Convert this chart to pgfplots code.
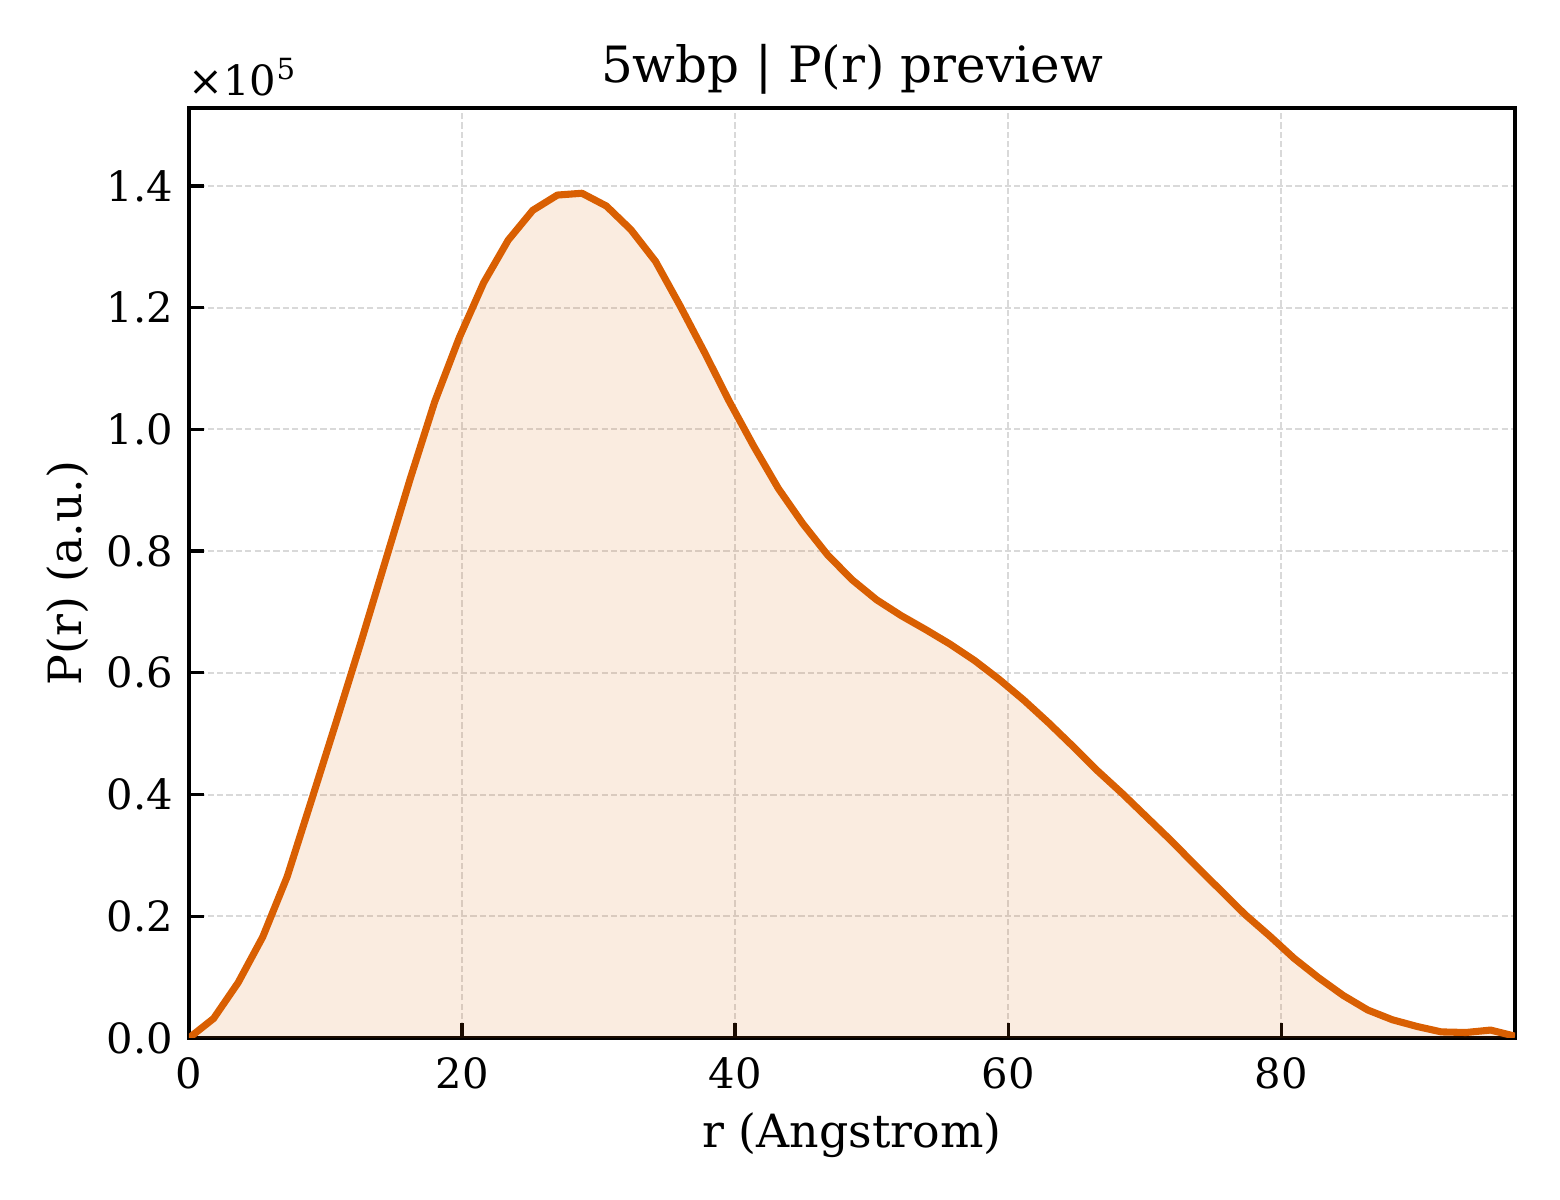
\documentclass[border=0pt]{standalone}
\usepackage{fontspec}
\setmainfont{DejaVu Serif}
\usepackage{pgfplots}
\usepackage{pgfplotstable}
\pgfplotsset{compat=1.18}
\definecolor{myorange}{RGB}{217,95,2}
\pgfplotstableread{
r P
0.00 0
1.80 3200
3.60 9100
5.40 16600
7.19 26500
8.99 39200
10.79 52000
12.59 65000
14.39 78400
16.19 91800
17.99 104500
19.78 115000
21.58 124100
23.38 131100
25.18 136000
26.98 138500
28.78 138800
30.57 136700
32.37 132800
34.17 127600
35.97 120300
37.77 112600
39.57 104600
41.37 97200
43.16 90300
44.96 84500
46.76 79400
48.56 75300
50.36 72000
52.16 69400
53.96 67100
55.75 64700
57.55 62000
59.35 58900
61.15 55500
62.95 51800
64.75 47900
66.54 43900
68.34 40200
70.14 36300
71.94 32400
73.74 28300
75.54 24300
77.34 20300
79.13 16800
80.93 13100
82.73 9900
84.53 7000
86.33 4600
88.13 3000
89.93 1900
91.72 1000
93.52 900
95.32 1300
97.12 300
}\prdata
\begin{document}
\begin{tikzpicture}
\useasboundingbox (-45.36pt,-38.88pt) rectangle (329.04pt,249.12pt);
\begin{axis}[
  at={(0,0)}, anchor=south west,
  scale only axis,
  width=318.24pt, height=223.2pt,
  xmin=0, xmax=97.12,
  ymin=0, ymax=152810,
  xtick={0,20,40,60,80},
  ytick={0,20000,40000,60000,80000,100000,120000,140000},
  scaled y ticks=base 10:-5,
  ytick scale label code/.code={×10\textsuperscript{#1}},
  every y tick scale label/.style={at={(axis description cs:0,1)}, anchor=base west, yshift=3.1pt, xshift=3.3pt, inner sep=0pt, font=\fontsize{10}{12}\selectfont},
  /pgf/number format/assume math mode=true,
  yticklabel style={/pgf/number format/fixed, /pgf/number format/fixed zerofill, /pgf/number format/precision=1},
  tick label style={font=\fontsize{10}{12}\selectfont},
  xticklabel style={anchor=north, inner sep=0pt, yshift=-4.6pt},
  yticklabel style={anchor=east, inner sep=0pt, xshift=-3.6pt},
  tick align=inside,
  xtick pos=bottom, ytick pos=left,
  major tick length=3.5pt,
  tick style={black, line width=0.8pt},
  axis line style={black, line width=1pt},
  grid=major,
  major grid style={gray!30, line width=0.5pt, dash pattern=on 1.5pt off 0.75pt},
  title={5wbp | P(r) preview},
  every axis title/.style={at={(axis description cs:0.5,1)}, anchor=base, yshift=6pt, inner sep=0pt, font=\fontsize{12}{14}\selectfont},
  xlabel={r (Angstrom)},
  ylabel={P(r) (a.u.)},
  every axis x label/.style={at={(axis description cs:0.5,0)}, anchor=base, yshift=-26.2pt, font=\fontsize{11}{13}\selectfont},
  every axis y label/.style={at={(axis description cs:0,0.5)}, xshift=-25.7pt, rotate=90, anchor=base, font=\fontsize{11}{13}\selectfont},
]
\addplot[draw=none, fill=myorange, fill opacity=0.12] table[x=r, y=P] {\prdata} \closedcycle;
\addplot[myorange, line width=1.7pt, line join=round] table[x=r, y=P] {\prdata};
\end{axis}
\end{tikzpicture}
\end{document}
